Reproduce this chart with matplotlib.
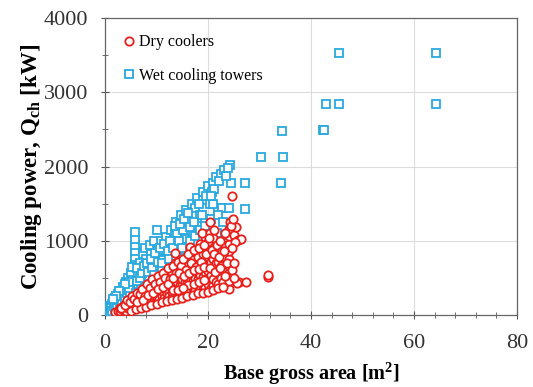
import numpy as np
import matplotlib
matplotlib.use("Agg")
import matplotlib.pyplot as plt
from matplotlib.ticker import MultipleLocator

# Dry coolers (red circles): base gross area [m2], cooling power [kW]
dry_x = [2, 2.5, 3, 3, 3.5, 3.5, 4, 4, 4, 4.5, 4.5,
         5, 5, 5, 5, 5.5, 5.5, 6, 6, 6, 6, 6.5, 6.5, 6.5, 7, 7, 7, 7, 7.5, 7.5, 7.5,
         8, 8, 8, 8, 8, 8.5, 8.5, 8.5, 9, 9, 9, 9, 9, 9.5, 9.5, 9.5,
         10, 10, 10, 10, 10, 10.5, 10.5,
         11, 11, 11, 11, 11, 11.5, 11.5, 12, 12, 12, 12, 12, 12.5, 12.5, 12.5,
         13, 13, 13, 13, 13, 13.5, 13.5, 13.5, 13.6,
         14, 14, 14, 14, 14, 14, 14.5, 14.5, 14.5, 15, 15, 15, 15, 15, 15, 15.5, 15.5, 15.5,
         16, 16, 16, 16, 16, 16, 16.5, 16.5, 16.5,
         17, 17, 17, 17, 17, 17, 17.5, 17.5, 17.5, 18, 18, 18, 18, 18, 18, 18.5, 18.5, 18.5,
         19, 19, 19, 19, 19, 19, 19.5, 19.5, 19.5, 18.8,
         20, 20, 20, 20, 20, 20, 20, 20, 20.5, 20.5, 20.5, 20.4, 20.4,
         21, 21, 21, 21, 21, 21, 21.5, 21.5,
         22, 22, 22, 22, 22.5, 22.5, 23, 23, 23, 23, 23.5,
         24, 24, 24, 24, 24, 24, 24, 24, 24, 24.3, 24.7, 25, 25.5, 25.8, 26.4, 25.2,
         26, 27.4, 25.6, 31.7, 31.7,
         3.2, 3.8, 4.3, 4.8, 5.2, 5.7, 6.2, 6.7, 7.2, 7.7, 8.2, 8.7, 9.2, 9.7, 10.2, 10.7,
         11.2, 11.7, 12.2, 12.7, 13.2, 13.7, 14.2, 14.7, 15.2, 15.7, 16.2, 16.7, 17.2, 17.7,
         18.2, 18.7, 19.2, 19.7, 20.2, 20.7, 21.2, 21.7, 22.3, 22.8, 23.3, 23.7, 24.5, 24.6,
         24.6, 25, 25, 24.8,
         5, 6, 7, 8, 9, 10, 11, 12, 13, 14, 15, 16, 17, 18, 19, 20, 21, 22, 23,
         6.2, 7.3, 8.3, 9.3, 10.3, 11.3, 12.3, 13.3, 14.3, 15.3, 16.3, 17.3, 18.3, 19.3,
         20.3, 21.3, 22.3, 23.3, 16.2, 17.2, 18.2, 19.2, 13.2, 14.2, 15.2, 21.2, 22.2, 23.2]
dry_y = [40, 60, 50, 90, 70, 120, 60, 110, 160, 90, 140,
         80, 130, 180, 230, 110, 160, 100, 150, 200, 260, 130, 190, 240, 120, 170, 230, 290, 150, 210, 330,
         140, 190, 250, 310, 380, 170, 230, 300, 160, 210, 270, 340, 420, 190, 260, 360,
         180, 240, 300, 380, 450, 210, 330,
         200, 260, 320, 400, 480, 230, 360, 220, 290, 350, 430, 520, 260, 400, 600,
         240, 310, 380, 460, 560, 270, 420, 700, 840,
         230, 300, 370, 450, 530, 620, 280, 400, 560, 260, 330, 410, 490, 580, 680, 300, 450, 760,
         280, 350, 430, 510, 600, 700, 320, 480, 920,
         300, 380, 460, 540, 640, 760, 340, 500, 850, 310, 400, 480, 570, 670, 780, 360, 540, 960,
         340, 420, 510, 600, 700, 820, 380, 580, 1050, 1110,
         330, 420, 500, 590, 680, 780, 880, 980, 360, 540, 720, 1100, 1260,
         400, 480, 620, 760, 900, 1040, 450, 700,
         420, 560, 720, 860, 500, 660, 450, 600, 780, 940, 520,
         350, 460, 560, 660, 760, 860, 960, 1060, 1160, 1250, 1608, 1080, 1180, 1010, 1030, 980,
         440, 446, 430, 514, 540,
         100, 140, 200, 170, 260, 210, 300, 280, 350, 260, 420, 360, 480, 420, 520, 450,
         560, 500, 640, 480, 660, 560, 720, 660, 760, 600, 820, 700, 880, 650,
         900, 720, 940, 820, 1040, 880, 1150, 940, 1000, 860, 1100, 700, 1200, 900,
         600, 700, 500, 1300,
         60, 80, 100, 110, 130, 150, 170, 190, 200, 210, 230, 250, 270, 290, 300, 310, 340, 360, 380,
         170, 200, 270, 300, 350, 380, 420, 500, 560, 520, 560, 600, 620, 650,
         640, 580, 640, 520, 400, 420, 440, 470, 340, 340, 370, 820, 780, 860]

# Wet cooling towers (blue squares)
wet_x = [0.2, 0.4, 0.5, 0.7, 0.8, 1, 1, 1.2, 1.3, 1.5, 1.6, 1.8, 2, 2, 2.2, 2.5, 2.5, 2.7,
         3, 3, 3.2, 3.5, 3.5, 3.7, 4, 4, 4.2, 4.5, 4.5, 4.8,
         5.8, 5.8, 5.8, 5.8, 5.8, 5.8, 5.8, 5.8, 5.8, 5.8, 5.8, 5, 5.2, 5.3,
         6.5, 6.5, 6.8, 7, 7, 7, 7.3, 7.5, 7.8, 8, 8, 8, 8.5, 8.5, 8.8, 9, 9, 9.5, 9.5,
         10, 10, 10, 10, 10.5, 10.8,
         11, 11, 11.5, 11.8, 12, 12, 12.5, 12.8, 13, 13, 13.6, 13.8, 14, 14, 14.5, 14.8, 15.1,
         15.5, 15.5, 15.5, 15.8, 16,
         16.8, 17, 17.5, 17.8, 18, 18.5, 19, 19, 19.5, 20, 20.8, 21, 21.5, 21.7, 21.7, 22,
         22.5, 22.7, 23.2, 24.3, 24.5, 24.2, 24.5, 20.5, 23.3,
         27.2, 27.2, 30.3, 34.5, 34.4, 34.2, 42.3, 42.6, 42.9, 45.4, 45.4, 64.3, 64.3,
         0.5, 0.9, 1.1, 1.4, 1.7, 1.9, 2.3, 2.6, 2.9, 3.3, 3.4, 3.8, 4.1, 4.3, 4.6, 4.9,
         4.7, 3.9, 2.8, 2.1, 1.6, 6, 6.2, 6.3, 6.8, 7.2, 7.6, 8.2, 8.4, 8.9, 9.2, 9.8,
         10.3, 10.6, 11.2, 11.5, 12.2, 12.7, 13.3, 13.5, 14.3, 14.6, 15.3, 16.2, 16.5, 17.3,
         18.2, 18.8, 19.7, 20.3, 21.2, 22.2, 23.5, 23.8, 22, 23, 24, 21, 20.5,
         9.5, 11, 12.5, 13.8, 15, 16.5, 17.5, 18.5, 19.5]
wet_y = [10, 30, 60, 40, 90, 70, 120, 50, 150, 100, 190, 140, 110, 230, 170, 140, 280, 210,
         170, 330, 250, 200, 380, 300, 240, 440, 340, 280, 500, 390,
         300, 380, 460, 540, 620, 700, 780, 860, 940, 1020, 1120, 560, 650, 470,
         420, 560, 700, 350, 480, 620, 820, 540, 900, 420, 620, 760, 520, 680, 950, 600, 820, 720, 1000,
         540, 660, 860, 1150, 780, 1000,
         620, 880, 760, 1050, 680, 920, 820, 1150, 740, 980, 1080, 1260, 860, 1108, 960, 1350, 1150,
         740, 880, 1020, 1420, 1284,
         1500, 1120, 1446, 1580, 1200, 1350, 1554, 1660, 1300, 1740, 1662, 1784, 1860, 1013, 1108, 1446,
         1905, 1446, 1950, 2027, 1784, 1240, 1160, 1300, 1081,
         1784, 1432, 2135, 2135, 2486, 1784, 2490, 2490, 2850, 2850, 3530, 3530, 2850,
         20, 30, 90, 60, 120, 80, 120, 200, 150, 180, 300, 220, 380, 300, 340, 260,
         450, 420, 320, 260, 220, 300, 460, 640, 500, 560, 660, 700, 580, 760, 640, 840,
         720, 900, 740, 960, 860, 1000, 900, 1200, 1000, 1220, 1300, 1380, 1180, 1250,
         1500, 1350, 1600, 1500, 1700, 1800, 1880, 1980, 1350, 1250, 1440, 1500, 1600,
         540, 700, 760, 800, 900, 1000, 1060, 1140, 1200]

plt.rcParams['font.family'] = ['Liberation Serif', 'DejaVu Serif']
plt.rcParams['mathtext.fontset'] = 'custom'
plt.rcParams['mathtext.rm'] = 'Liberation Serif'
plt.rcParams['mathtext.bf'] = 'Liberation Serif:bold'

fig = plt.figure(figsize=(5.33, 3.87), dpi=100)
ax = fig.add_axes([0.197, 0.186, 0.773, 0.767])

ax.plot(wet_x, wet_y, 's', ms=6, mfc='white', mec='#29a9de', mew=1.3,
        linestyle='none', label='Wet cooling towers', zorder=3)
ax.plot(dry_x, dry_y, 'o', ms=6, mfc='white', mec='#e8201c', mew=1.3,
        linestyle='none', label='Dry coolers', zorder=4)

ax.set_xlim(0, 80)
ax.set_ylim(0, 4000)
ax.xaxis.set_major_locator(MultipleLocator(20))
ax.xaxis.set_minor_locator(MultipleLocator(4))
ax.yaxis.set_major_locator(MultipleLocator(1000))
ax.yaxis.set_minor_locator(MultipleLocator(500))
ax.grid(True, which='major', color='#dcdcdc', lw=0.8, zorder=0)
ax.set_axisbelow(True)
ax.tick_params(which='major', direction='inout', length=6, width=0.8,
               labelsize=16, colors='#555555', labelcolor='#333333')
ax.tick_params(axis='y', which='major', pad=9)
ax.tick_params(axis='x', which='major', pad=11)
ax.tick_params(which='minor', direction='inout', length=4, width=0.6, colors='#555555')
for s in ax.spines.values():
    s.set_color('#666666')
    s.set_linewidth(0.9)

ax.set_xlabel('Base gross area [m$^{\\mathbf{2}}$]', fontsize=14.5, fontweight='bold', labelpad=5)
ax.set_ylabel('Cooling power, Q$_{\\mathbf{ch}}$ [kW]', fontsize=16.5, fontweight='bold', labelpad=0)

h, l = ax.get_legend_handles_labels()
ax.legend(h[::-1], l[::-1], loc='upper left', frameon=False, fontsize=11.5,
          handletextpad=0.1, handlelength=1.0, labelspacing=1.1,
          borderaxespad=0.6)

fig.savefig('out.png', dpi=100)
